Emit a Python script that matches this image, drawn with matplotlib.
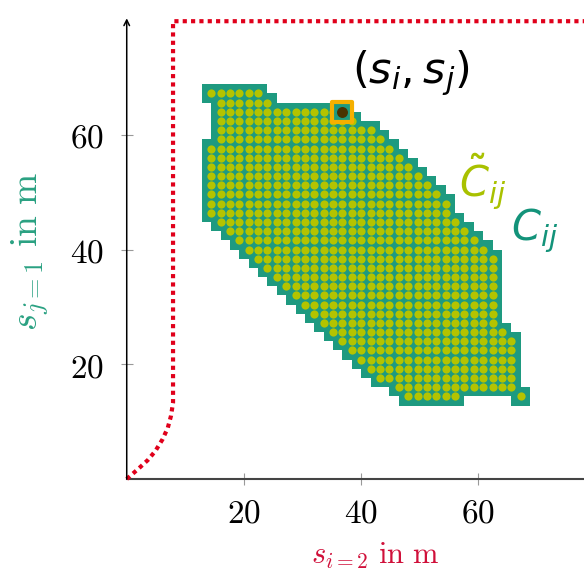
import matplotlib.pyplot as plt

plt.rcParams['mathtext.fontset'] = 'cm'

# grid of the candidate positions (s_i, s_j) in m
grid_x0 = 14.4
grid_y0 = 67.2
grid_step = 1.6

# for every grid row (top to bottom) the first and last occupied column
row_start = [0, 1, 1, 1, 1, 1, 0, 0, 0, 0, 0, 0, 0, 0, 1, 2, 3, 4,
             5, 6, 7, 8, 9, 10, 11, 12, 13, 14, 15, 16, 17, 18, 20, 21]
row_end = [5, 6, 14, 15, 17, 18, 19, 20, 21, 22, 23, 24, 25, 25, 26, 27, 28, 29,
           30, 30, 30, 30, 30, 30, 30, 30, 31, 32, 32, 32, 32, 32, 32, 26]
# single cells that are not part of a row run (column, row)
extra_cells = [(33, 33)]

# chosen position (column, row)
chosen_cell = (14, 2)

# red boundary curve
bound_x = [0, 1.9, 3.6, 4.9, 6.1, 7.0, 7.55, 7.9, 7.9, 80]
bound_y = [0, 1.7, 3.3, 4.9, 6.9, 8.9, 11.0, 13.3, 79.8, 79.8]

x_ticks = [20, 40, 60]
y_ticks = [20, 40, 60]

teal = '#1e9a80'
dot_color = '#b4c300'
red = '#e0001b'

fig = plt.figure(figsize=(5.84, 5.78), dpi=100)
ax = fig.add_axes([0.217, 0.1713, 0.783, 0.794])

# build the dot list and the row runs in data units
dots_x, dots_y = [], []
run_y, run_left, run_width = [], [], []
for j, (a, b) in enumerate(zip(row_start, row_end)):
    y = grid_y0 - j * grid_step
    run_y.append(y)
    run_left.append(grid_x0 + a * grid_step - grid_step)
    run_width.append((b - a) * grid_step + 2 * grid_step)
    for i in range(a, b + 1):
        dots_x.append(grid_x0 + i * grid_step)
        dots_y.append(y)
for i, j in extra_cells:
    y = grid_y0 - j * grid_step
    run_y.append(y)
    run_left.append(grid_x0 + i * grid_step - grid_step)
    run_width.append(2 * grid_step)
    dots_x.append(grid_x0 + i * grid_step)
    dots_y.append(y)

ax.barh(run_y, run_width, left=run_left, height=2 * grid_step, color=teal, linewidth=0, zorder=2)
ax.scatter(dots_x, dots_y, s=35, color=dot_color, linewidths=0, zorder=3)

cx = grid_x0 + chosen_cell[0] * grid_step
cy = grid_y0 - chosen_cell[1] * grid_step
ax.scatter([cx], [cy], s=190, marker='s', facecolor=teal, edgecolor='#f5b000', linewidths=3, zorder=4)
ax.scatter([cx], [cy], s=62, color='#4a3300', linewidths=0, zorder=5)

ax.plot(bound_x, bound_y, color=red, lw=3, linestyle=(0, (1, 1)), dash_capstyle='butt', clip_on=False, zorder=3)

ax.text(48.5, 70.8, r'$(s_i,s_j)$', fontsize=31, math_fontfamily='dejavusans', ha='center', va='center', color='black')
ax.text(60.7, 51.8, r'$\tilde{C}_{ij}$', fontsize=30, math_fontfamily='dejavusans', ha='center', va='center', color='#a9c100')
ax.text(69.6, 43.3, r'$C_{ij}$', fontsize=30, math_fontfamily='dejavusans', ha='center', va='center', color='#13937a')

ax.set_xlim(0, 78)
ax.set_ylim(0, 80)
for side in ['top', 'right', 'left']:
    ax.spines[side].set_visible(False)
ax.spines['bottom'].set_color('#444444')
ax.spines['bottom'].set_linewidth(1.5)
ax.annotate('', xy=(0, 80.3), xytext=(0, 0), annotation_clip=False,
            arrowprops=dict(arrowstyle='->', lw=1.1, color='black', shrinkA=0, shrinkB=0))

ax.set_xticks(x_ticks)
ax.set_yticks(y_ticks)
ax.set_xticklabels([f'${v}$' for v in x_ticks])
ax.set_yticklabels([f'${v}$' for v in y_ticks])
ax.tick_params(direction='inout', length=9, width=0.8, color='#999999', labelsize=24, pad=8)
ax.tick_params(axis='y', pad=12)

fig.text(30 / 584, 1 - 251 / 578, r'$s_{j=1}\ \mathrm{in\ m}$', rotation=90, fontsize=27,
         color='#2aa182', ha='center', va='center')
fig.text(375 / 584, 1 - 556 / 578, r'$s_{i=2}\ \mathrm{in\ m}$', fontsize=22,
         color='#d0103a', ha='center', va='center')

fig.savefig('out.png', dpi=100)
